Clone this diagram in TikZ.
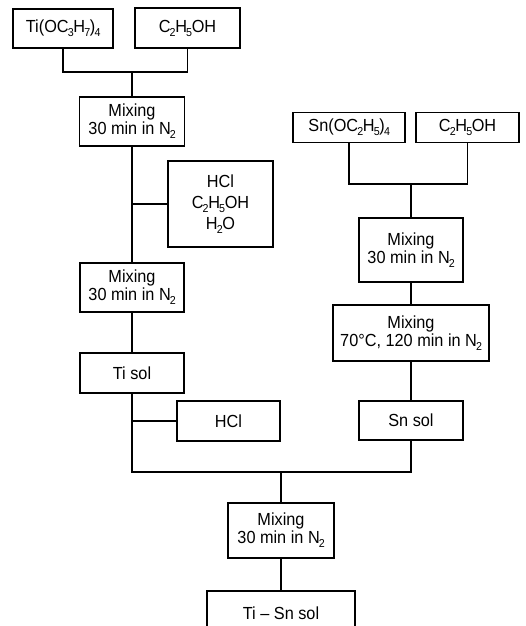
\documentclass[tikz,border=0pt]{standalone}
\usepackage{fontspec}
\setmainfont{Liberation Sans}[FakeStretch=0.93]
\newcommand{\sbs}[1]{\kern-0.8pt\raisebox{-4pt}{\fontsize{11.5}{11.5}\selectfont #1}\kern-0.4pt}
\begin{document}
\begin{tikzpicture}[x=1pt,y=-1pt,
  box/.style={draw, line width=1.2pt, rectangle, inner sep=0pt, align=center,
    font=\fontsize{17.5}{18}\selectfont, text=black},
  conn/.style={line width=1.1pt}]
\clip (0,0) rectangle (525,626);
\fill[white] (0,0) rectangle (525,626);
% left column
\node[box, minimum width=100pt, minimum height=39pt] (ti) at (63,28.5) {Ti(OC\sbs{3}H\sbs{7})\sbs{4}};
\node[box, minimum width=105pt, minimum height=40pt] (eth1) at (187.5,28) {C\sbs{2}H\sbs{5}OH};
\node[box, minimum width=105pt, minimum height=49pt] (mix1) at (132,121.5) {Mixing\\30 min in N\sbs{2}};
\node[box, minimum width=105pt, minimum height=86pt, font=\fontsize{17.5}{21}\selectfont] (hcl1) at (220.5,204) {HCl\\C\sbs{2}H\sbs{5}OH\\H\sbs{2}O};
\node[box, minimum width=104pt, minimum height=49pt] (mix2) at (132,287.5) {Mixing\\30 min in N\sbs{2}};
\node[box, minimum width=104pt, minimum height=40pt] (tisol) at (132,373) {Ti sol};
\node[box, minimum width=103pt, minimum height=40pt] (hcl2) at (228.5,421) {HCl};
% right column
\node[box, minimum width=112pt, minimum height=30pt] (sn) at (349,127.5) {Sn(OC\sbs{2}H\sbs{5})\sbs{4}};
\node[box, minimum width=103pt, minimum height=30pt] (eth2) at (467.5,127.5) {C\sbs{2}H\sbs{5}OH};
\node[box, minimum width=104pt, minimum height=64pt] (mix3) at (411,250) {Mixing\\30 min in N\sbs{2}};
\node[box, minimum width=156pt, minimum height=56pt] (mix70) at (411,333) {Mixing\\70°C, 120 min in N\sbs{2}};
\node[box, minimum width=104pt, minimum height=39pt] (snsol) at (411,420.5) {Sn sol};
% bottom
\node[box, minimum width=106pt, minimum height=55pt] (mix4) at (281,530.5) {Mixing\\30 min in N\sbs{2}};
\node[box, minimum width=148pt, minimum height=44pt] (tisn) at (281,613) {Ti -- Sn sol};
% junctions
\coordinate (j1) at (132,72);
\coordinate (j2) at (411,184);
\coordinate (j3) at (281,472);
% connectors
\draw[conn] (ti.south) |- (j1) -| (eth1.south);
\draw[conn] (j1) -- (mix1.north);
\draw[conn] (mix1.south) -- (mix2.north);
\draw[conn] (mix1.south |- hcl1.west) -- (hcl1.west);
\draw[conn] (mix2.south) -- (tisol.north);
\draw[conn] (tisol.south) |- (j3) -| (snsol.south);
\draw[conn] (tisol.south |- hcl2.west) -- (hcl2.west);
\draw[conn] (j3) -- (mix4.north);
\draw[conn] (mix4.south) -- (tisn.north);
\draw[conn] (sn.south) |- (j2) -| (eth2.south);
\draw[conn] (j2) -- (mix3.north);
\draw[conn] (mix3.south) -- (mix70.north);
\draw[conn] (mix70.south) -- (snsol.north);
\end{tikzpicture}
\end{document}
